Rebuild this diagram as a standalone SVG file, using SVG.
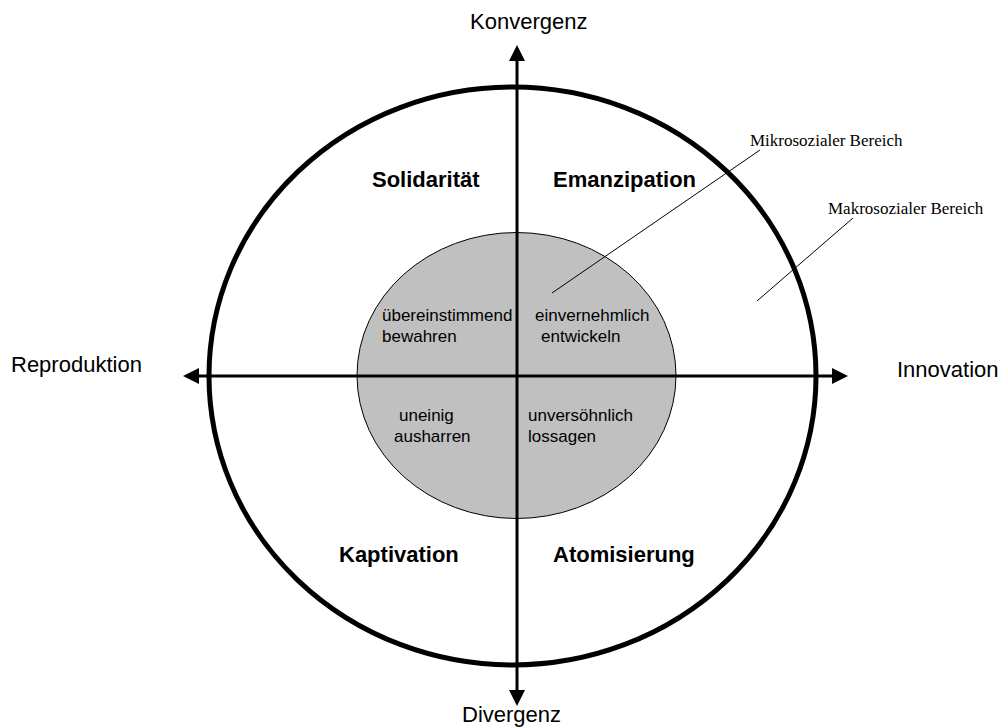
<svg xmlns="http://www.w3.org/2000/svg" width="1003" height="728" viewBox="0 0 1003 728">
  <style>
    .axis { stroke: #000; stroke-width: 3; fill: none; }
    .head { fill: #000; }
    .pole { font-family: "Liberation Sans", Arial, sans-serif; font-size: 22px; fill: #000; }
    .quad { font-family: "Liberation Sans", Arial, sans-serif; font-size: 22px; font-weight: bold; fill: #000; }
    .inner { font-family: "Liberation Sans", Arial, sans-serif; font-size: 17px; fill: #000; }
    .note { font-family: "Liberation Serif", "Times New Roman", serif; font-size: 17px; fill: #000; }
    .leader { stroke: #000; stroke-width: 1; fill: none; }
  </style>

  <rect width="1003" height="728" fill="#fff"/>

  <!-- macro-social area: large outer ellipse -->
  <g id="makro">
    <ellipse cx="512.5" cy="376" rx="303.5" ry="289" fill="none" stroke="#000" stroke-width="5"/>
  </g>

  <!-- micro-social area: grey inner ellipse -->
  <g id="mikro">
    <ellipse cx="516.5" cy="375.5" rx="159.5" ry="143" fill="#c0c0c0" stroke="#000" stroke-width="1"/>
  </g>

  <!-- axes with arrowheads and leader lines -->
  <g id="connectors">
    <line class="axis" x1="195" y1="376" x2="836" y2="376"/>
    <polygon class="head" points="183,376 199,368 199,384"/>
    <polygon class="head" points="848,376 832,368 832,384"/>
    <line class="axis" x1="517" y1="57" x2="517" y2="694"/>
    <polygon class="head" points="517,45 509,61 525,61"/>
    <polygon class="head" points="517,706 509,690 525,690"/>
    <line class="leader" x1="552" y1="293" x2="760" y2="150"/>
    <line class="leader" x1="757" y1="301" x2="853" y2="218"/>
  </g>

  <!-- axis poles -->
  <g id="pole-konvergenz"><text class="pole" x="470" y="29">Konvergenz</text></g>
  <g id="pole-divergenz"><text class="pole" x="462" y="722">Divergenz</text></g>
  <g id="pole-reproduktion"><text class="pole" x="11" y="372">Reproduktion</text></g>
  <g id="pole-innovation"><text class="pole" x="897" y="377">Innovation</text></g>

  <!-- quadrant names -->
  <g id="solidaritaet"><text class="quad" x="372" y="187">Solidarität</text></g>
  <g id="emanzipation"><text class="quad" x="553" y="187">Emanzipation</text></g>
  <g id="kaptivation"><text class="quad" x="339" y="562">Kaptivation</text></g>
  <g id="atomisierung"><text class="quad" x="553" y="562">Atomisierung</text></g>

  <!-- micro-level modes -->
  <g id="bewahren">
    <text class="inner" x="382" y="321">übereinstimmend</text>
    <text class="inner" x="382" y="342">bewahren</text>
  </g>
  <g id="entwickeln">
    <text class="inner" x="535" y="321">einvernehmlich</text>
    <text class="inner" x="541" y="342">entwickeln</text>
  </g>
  <g id="ausharren">
    <text class="inner" x="399" y="421">uneinig</text>
    <text class="inner" x="394" y="442">ausharren</text>
  </g>
  <g id="lossagen">
    <text class="inner" x="528" y="421">unversöhnlich</text>
    <text class="inner" x="528" y="442">lossagen</text>
  </g>

  <!-- area notes -->
  <g id="note-mikro"><text class="note" x="750" y="146">Mikrosozialer Bereich</text></g>
  <g id="note-makro"><text class="note" x="828" y="214">Makrosozialer Bereich</text></g>
</svg>
